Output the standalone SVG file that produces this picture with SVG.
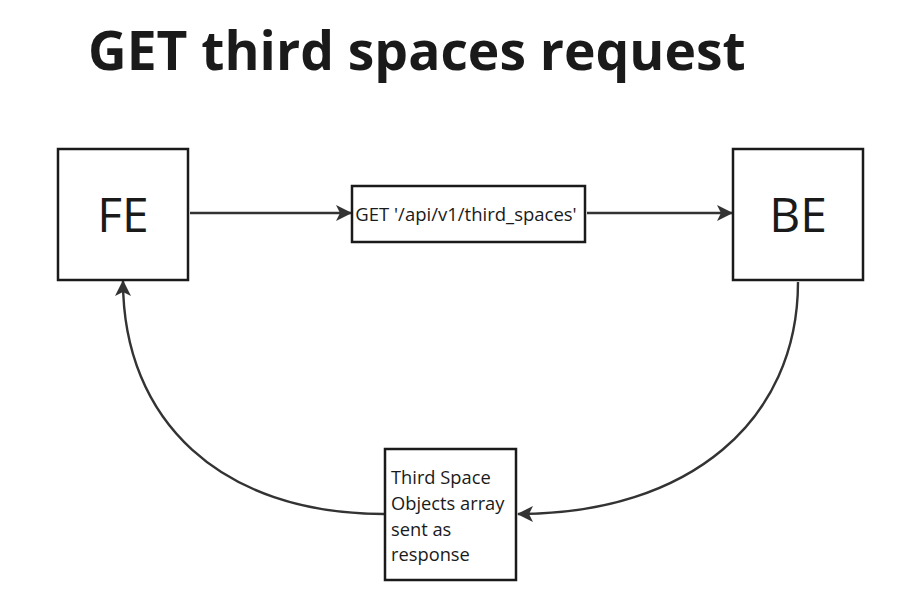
<svg xmlns="http://www.w3.org/2000/svg" width="912" height="606" viewBox="0 0 912 606">
<style>
.box{fill:#fff;stroke:#1a1a1a;stroke-width:2.5}
.t{font-family:"Open Sans","Noto Sans",sans-serif;fill:#1a1a1a}
.c{fill:none;stroke:#333;stroke-width:2.4}
</style>
<defs>
<marker id="ah" viewBox="0 0 16 16" refX="15" refY="8" markerWidth="16" markerHeight="16" markerUnits="userSpaceOnUse" orient="auto">
<path d="M0,0 L16,8 L0,16 L4,8 Z" fill="#333"/>
</marker>
</defs>
<rect width="912" height="606" fill="#fff"/>
<text class="t" x="88" y="70" font-size="53.4" font-weight="700">GET third spaces request</text>
<g id="connectors">
<path class="c" d="M190,213 L351,213" marker-end="url(#ah)"/>
<path class="c" d="M587,213 L732,213" marker-end="url(#ah)"/>
<path class="c" d="M798,282 C798,420 690,514 518,514" marker-end="url(#ah)"/>
<path class="c" d="M384,514 C220,514 123,420 123,281" marker-end="url(#ah)"/>
</g>
<g id="fe">
<rect class="box" x="58" y="149" width="130" height="131"/>
<text class="t" x="123" y="232" font-size="48" text-anchor="middle">FE</text>
</g>
<g id="be">
<rect class="box" x="733" y="149" width="130" height="131"/>
<text class="t" x="798" y="232" font-size="48" text-anchor="middle">BE</text>
</g>
<g id="request">
<rect class="box" x="352" y="186" width="233" height="56"/>
<text class="t" x="466" y="221" font-size="18.5" text-anchor="middle">GET '/api/v1/third_spaces'</text>
</g>
<g id="response">
<rect class="box" x="385" y="449" width="131" height="131"/>
<text class="t" font-size="18.3"><tspan x="391" y="484">Third Space</tspan><tspan x="391" y="510">Objects array</tspan><tspan x="391" y="536">sent as</tspan><tspan x="391" y="561">response</tspan></text>
</g>
</svg>
